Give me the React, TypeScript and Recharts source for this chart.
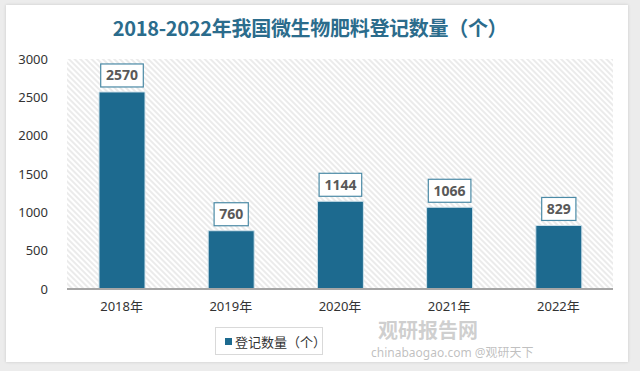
import React from "react";
import { BarChart, Bar, XAxis, YAxis, CartesianGrid, LabelList } from "recharts";

const categories = ["2018年", "2019年", "2020年", "2021年", "2022年"];
const counts = [2570, 760, 1144, 1066, 829];
const yTicks = [0, 500, 1000, 1500, 2000, 2500, 3000];
const title = "2018-2022年我国微生物肥料登记数量（个）";
const seriesName = "登记数量（个）";

const data = categories.map((c, i) => ({ name: c, value: counts[i] }));

const BAR = "#1d6a8f";
const FONT = "'Noto Sans', 'Noto Sans CJK SC', sans-serif";

const ValueLabel = (props: any) => {
  const { x, y, width, value } = props;
  const s = String(value);
  const w = s.length * 8.4 + 9;
  const h = 23;
  const cx = x + width / 2;
  const top = y - 5 - h;
  return (
    <g>
      <rect x={cx - w / 2} y={top} width={w} height={h} fill="#ffffff" stroke="#4b8aa6" strokeWidth={1.2} />
      <text x={cx} y={top + h / 2 + 5} textAnchor="middle" fontSize={14} fontWeight="bold" fill="#595959" fontFamily={FONT}>
        {s}
      </text>
    </g>
  );
};

export default function App() {
  return (
    <div style={{ position: "absolute", left: 0, top: 0, width: 640, height: 371, background: "#ececec", overflow: "hidden", fontFamily: FONT }}>
      <div style={{ position: "absolute", left: 6, top: 5, width: 622, height: 357, background: "#ffffff", boxShadow: "0 0 3px rgba(0,0,0,0.15)" }} />
      <div style={{ position: "absolute", left: 0, top: 13, width: 620, textAlign: "center", fontSize: 20, fontWeight: "bold", color: "#2b6c8c", fontFamily: "'Noto Sans CJK SC', sans-serif", letterSpacing: -0.3 }}>
        {title}
      </div>
      <div style={{ position: "absolute", left: 0, top: 0 }}>
        <BarChart width={640} height={371} data={data} margin={{ top: 59, right: 27, left: 0, bottom: 52 }} barSize={46}>
          <defs>
            <pattern id="hatch" patternUnits="userSpaceOnUse" width={4} height={4} patternTransform="rotate(45)">
              <rect width={4} height={4} fill="#ffffff" />
              <line x1={0} y1={1} x2={4} y2={1} stroke="#dedede" strokeWidth={1.2} />
            </pattern>
          </defs>
          <CartesianGrid fill="url(#hatch)" horizontal={false} vertical={false} />
          <XAxis
            dataKey="name"
            axisLine={{ stroke: "#a6a6a6", strokeWidth: 2 }}
            tickLine={false}
            tick={{ fontSize: 13, fill: "#333333", fontFamily: FONT }}
            tickMargin={7}
            height={30}
          />
          <YAxis
            domain={[0, 3000]}
            ticks={yTicks}
            axisLine={false}
            tickLine={false}
            width={67}
            tickMargin={13}
            tick={{ fontSize: 13, fill: "#333333", fontFamily: FONT }}
            interval={0}
          />
          <Bar dataKey="value" fill={BAR} stroke="#cfe2eb" strokeWidth={1} isAnimationActive={false}>
            <LabelList dataKey="value" content={ValueLabel} />
          </Bar>
        </BarChart>
      </div>
      <div style={{ position: "absolute", left: 215, top: 327, width: 108, height: 28, border: "1px solid #d9d9d9", background: "#fff", display: "flex", alignItems: "center", boxSizing: "border-box", paddingLeft: 9 }}>
        <span style={{ display: "inline-block", flexShrink: 0, width: 7, height: 7, background: BAR, marginRight: 3 }} />
        <span style={{ fontSize: 13, color: "#333", fontFamily: "'Noto Sans CJK SC', sans-serif", whiteSpace: "nowrap" }}>{seriesName}</span>
      </div>
      <div style={{ position: "absolute", left: 378, top: 320, fontSize: 20, lineHeight: "20px", fontWeight: "bold", color: "rgba(160,160,160,0.5)", fontFamily: "'Noto Sans CJK SC', sans-serif", whiteSpace: "nowrap" }}>
        观研报告网
      </div>
      <div style={{ position: "absolute", left: 371, top: 346, fontSize: 12, lineHeight: "14px", color: "rgba(150,150,150,0.6)", fontFamily: FONT, whiteSpace: "nowrap" }}>
        chinabaogao.com @观研天下
      </div>
    </div>
  );
}
